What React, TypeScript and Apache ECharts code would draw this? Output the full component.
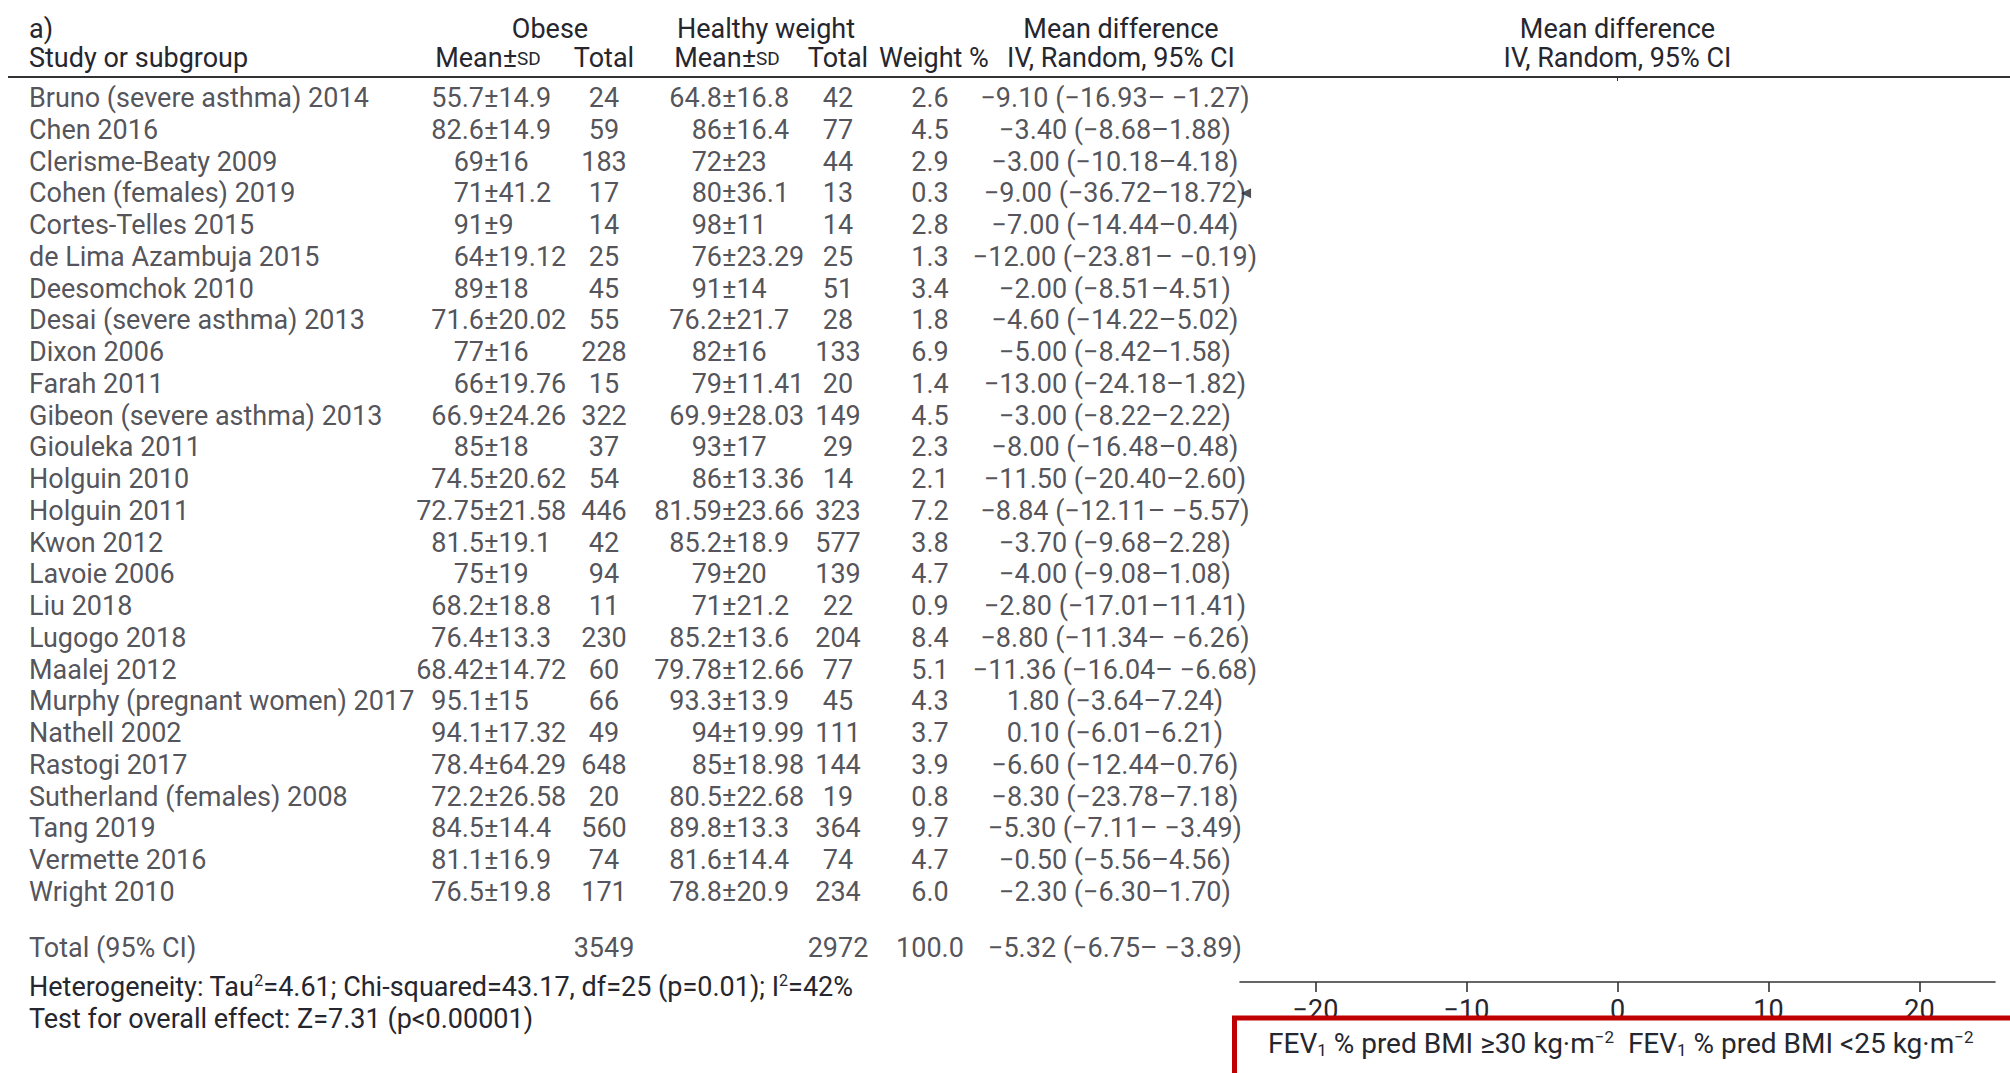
import React, { useEffect, useRef } from "react";
import * as echarts from "echarts";

// ---- Study rows ----
const studies = [
  "Bruno (severe asthma) 2014",
  "Chen 2016",
  "Clerisme-Beaty 2009",
  "Cohen (females) 2019",
  "Cortes-Telles 2015",
  "de Lima Azambuja 2015",
  "Deesomchok 2010",
  "Desai (severe asthma) 2013",
  "Dixon 2006",
  "Farah 2011",
  "Gibeon (severe asthma) 2013",
  "Giouleka 2011",
  "Holguin 2010",
  "Holguin 2011",
  "Kwon 2012",
  "Lavoie 2006",
  "Liu 2018",
  "Lugogo 2018",
  "Maalej 2012",
  "Murphy (pregnant women) 2017",
  "Nathell 2002",
  "Rastogi 2017",
  "Sutherland (females) 2008",
  "Tang 2019",
  "Vermette 2016",
  "Wright 2010",
];
const obeseMean = [55.7, 82.6, 69, 71, 91, 64, 89, 71.6, 77, 66, 66.9, 85, 74.5, 72.75, 81.5, 75, 68.2, 76.4, 68.42, 95.1, 94.1, 78.4, 72.2, 84.5, 81.1, 76.5];
const obeseSd = [14.9, 14.9, 16, 41.2, 9, 19.12, 18, 20.02, 16, 19.76, 24.26, 18, 20.62, 21.58, 19.1, 19, 18.8, 13.3, 14.72, 15, 17.32, 64.29, 26.58, 14.4, 16.9, 19.8];
const obeseTotal = [24, 59, 183, 17, 14, 25, 45, 55, 228, 15, 322, 37, 54, 446, 42, 94, 11, 230, 60, 66, 49, 648, 20, 560, 74, 171];
const healthyMean = [64.8, 86, 72, 80, 98, 76, 91, 76.2, 82, 79, 69.9, 93, 86, 81.59, 85.2, 79, 71, 85.2, 79.78, 93.3, 94, 85, 80.5, 89.8, 81.6, 78.8];
const healthySd = [16.8, 16.4, 23, 36.1, 11, 23.29, 14, 21.7, 16, 11.41, 28.03, 17, 13.36, 23.66, 18.9, 20, 21.2, 13.6, 12.66, 13.9, 19.99, 18.98, 22.68, 13.3, 14.4, 20.9];
const healthyTotal = [42, 77, 44, 13, 14, 25, 51, 28, 133, 20, 149, 29, 14, 323, 577, 139, 22, 204, 77, 45, 111, 144, 19, 364, 74, 234];
const weights = [2.6, 4.5, 2.9, 0.3, 2.8, 1.3, 3.4, 1.8, 6.9, 1.4, 4.5, 2.3, 2.1, 7.2, 3.8, 4.7, 0.9, 8.4, 5.1, 4.3, 3.7, 3.9, 0.8, 9.7, 4.7, 6.0];
const meanDiff = [-9.1, -3.4, -3, -9, -7, -12, -2, -4.6, -5, -13, -3, -8, -11.5, -8.84, -3.7, -4, -2.8, -8.8, -11.36, 1.8, 0.1, -6.6, -8.3, -5.3, -0.5, -2.3];
const ciLower = [-16.93, -8.68, -10.18, -36.72, -14.44, -23.81, -8.51, -14.22, -8.42, -24.18, -8.22, -16.48, -20.4, -12.11, -9.68, -9.08, -17.01, -11.34, -16.04, -3.64, -6.01, -12.44, -23.78, -7.11, -5.56, -6.3];
const ciUpper = [-1.27, 1.88, 4.18, 18.72, 0.44, -0.19, 4.51, 5.02, 1.58, 1.82, 2.22, 0.48, 2.6, -5.57, 2.28, 1.08, 11.41, -6.26, -6.68, 7.24, 6.21, 0.76, 7.18, -3.49, 4.56, 1.7];

// ---- Pooled result ----
const totalObese = 3549;
const totalHealthy = 2972;
const totalWeight = 100.0;
const totalMd = -5.32;
const totalLower = -6.75;
const totalUpper = -3.89;

// ---- Mean-difference axis ----
const mdMin = -25;
const mdMax = 25;
const mdTicks = [-20, -10, 0, 10, 20];

// ---- Layout and style ----
const W = 2010;
const H = 1073;
const FONT = "Roboto, 'DejaVu Sans', sans-serif";
const FS = 27;
const INK = "#26262e";
const RULE = "#333333";
const PITCH = 31.76;
const ROW0_Y = 98;
const GRID_TOP = 78;
const AXIS_Y = 982;
const PLOT_LEFT = 1240;
const PLOT_RIGHT = 1995;
const TOTAL_ROW = 26.75;

const NAME_X = 29;
const OB_PM_X = 484;
const OB_N_X = 604;
const HW_PM_X = 722;
const HW_N_X = 838;
const WT_X = 930;
const CI_X = 1115;

const MINUS = "\u2212";
const fmt = (v: number, d: number) => (v < 0 ? MINUS : "") + Math.abs(v).toFixed(d);
const ciText = (md: number, lo: number, hi: number) =>
  `${fmt(md, 2)} (${fmt(lo, 2)}${hi < 0 ? "\u2013 " : "\u2013"}${fmt(hi, 2)})`;

const rowY = (r: number) => ROW0_Y + r * PITCH;

export default function App() {
  const ref = useRef<HTMLDivElement>(null);

  useEffect(() => {
    if (!ref.current) return;
    const chart = echarts.init(ref.current, null, { renderer: "svg" });

    const ctx = document.createElement("canvas").getContext("2d")!;
    ctx.font = `${FS}px Roboto`;
    const textW = (s: string) => ctx.measureText(s).width;

    const yMin = -(ROW0_Y - GRID_TOP) / PITCH;
    const yMax = (AXIS_Y - ROW0_Y) / PITCH;
    const plotW = PLOT_RIGHT - PLOT_LEFT;
    const zeroX = PLOT_LEFT + ((0 - mdMin) / (mdMax - mdMin)) * plotW;

    const labelBase = {
      show: true,
      position: "inside",
      verticalAlign: "middle",
      formatter: "{b}",
      fontSize: FS,
      fontFamily: FONT,
      color: INK,
    };
    const column = (items: { x: number; y: number; text: string }[], align: string) => ({
      type: "scatter",
      xAxisIndex: 1,
      yAxisIndex: 1,
      symbol: "circle",
      symbolSize: 1,
      silent: true,
      clip: false,
      itemStyle: { color: "rgba(0,0,0,0)" },
      emphasis: { disabled: true },
      label: { ...labelBase, align },
      data: items.map((it) => ({ name: it.text, value: [it.x, it.y] })),
    });

    // mean±SD aligned on the ± sign
    const pmItems = (means: number[], sds: number[], px: number) =>
      means.map((m, i) => {
        const left = String(m);
        return { x: px - textW(left), y: i, text: `${left}±${sds[i]}` };
      });

    const nameCol = column(
      [...studies.map((s, i) => ({ x: NAME_X, y: i, text: s })), { x: NAME_X, y: TOTAL_ROW, text: "Total (95% CI)" }],
      "left"
    );
    const obPm = column(pmItems(obeseMean, obeseSd, OB_PM_X), "left");
    const obN = column(
      [...obeseTotal.map((n, i) => ({ x: OB_N_X, y: i, text: String(n) })), { x: OB_N_X, y: TOTAL_ROW, text: String(totalObese) }],
      "center"
    );
    const hwPm = column(pmItems(healthyMean, healthySd, HW_PM_X), "left");
    const hwN = column(
      [...healthyTotal.map((n, i) => ({ x: HW_N_X, y: i, text: String(n) })), { x: HW_N_X, y: TOTAL_ROW, text: String(totalHealthy) }],
      "center"
    );
    const wt = column(
      [...weights.map((w, i) => ({ x: WT_X, y: i, text: w.toFixed(1) })), { x: WT_X, y: TOTAL_ROW, text: totalWeight.toFixed(1) }],
      "center"
    );
    const ci = column(
      [
        ...meanDiff.map((m, i) => ({ x: CI_X, y: i, text: ciText(m, ciLower[i], ciUpper[i]) })),
        { x: CI_X, y: TOTAL_ROW, text: ciText(totalMd, totalLower, totalUpper) },
      ],
      "center"
    );

    // arrows where a confidence interval runs past the axis
    const arrowData: number[][] = [];
    ciLower.forEach((lo, i) => {
      if (lo < mdMin) arrowData.push([mdMin + 0.4, i]);
    });

    const txt = (x: number, y: number, text: string, align = "left", extra: any = {}) => ({
      type: "text",
      x,
      y,
      silent: true,
      style: {
        text,
        fontSize: FS,
        fontFamily: FONT,
        fill: INK,
        align,
        verticalAlign: "middle",
        ...extra,
      },
    });
    const richStyles = {
      sup: { fontSize: 16, lineHeight: 16, verticalAlign: "top", fontFamily: FONT, fill: INK },
      sub: { fontSize: 16, lineHeight: 16, verticalAlign: "bottom", fontFamily: FONT, fill: INK },
      sc: { fontSize: 19, lineHeight: 30, verticalAlign: "middle", fontFamily: FONT, fill: INK },
    };
    const boxRich = {
      sup: { fontSize: 17, lineHeight: 16, verticalAlign: "top", fontFamily: FONT, fill: INK },
      sub: { fontSize: 17, lineHeight: 16, verticalAlign: "bottom", fontFamily: FONT, fill: INK },
    };
    const H1 = 29;
    const H2 = 58;

    const graphics: any[] = [
      { type: "line", silent: true, shape: { x1: 8, y1: 77, x2: W, y2: 77 }, style: { stroke: RULE, lineWidth: 2 } },
      { type: "line", silent: true, shape: { x1: zeroX, y1: 78, x2: zeroX, y2: 81 }, style: { stroke: RULE, lineWidth: 1 } },
      txt(NAME_X, H1, "a)"),
      txt(550, H1, "Obese", "center"),
      txt(766, H1, "Healthy weight", "center"),
      txt(1121, H1, "Mean difference", "center"),
      txt(zeroX, H1, "Mean difference", "center"),
      txt(NAME_X, H2, "Study or subgroup"),
      txt(488, H2, "Mean±{sc|SD}", "center", { rich: richStyles, lineHeight: 30 }),
      txt(OB_N_X, H2, "Total", "center"),
      txt(727, H2, "Mean±{sc|SD}", "center", { rich: richStyles, lineHeight: 30 }),
      txt(HW_N_X, H2, "Total", "center"),
      txt(934, H2, "Weight %", "center"),
      txt(1121, H2, "IV, Random, 95% CI", "center"),
      txt(zeroX, H2, "IV, Random, 95% CI", "center"),
      txt(NAME_X, rowY(28), "Heterogeneity: Tau{sup|2}=4.61; Chi-squared=43.17, df=25 (p=0.01); I{sup|2}=42%", "left", {
        rich: richStyles,
        lineHeight: 30,
      }),
      txt(NAME_X, rowY(29), "Test for overall effect: Z=7.31 (p<0.00001)"),
      {
        type: "rect",
        silent: true,
        z: 100,
        shape: { x: 1234.5, y: 1018, width: 820, height: 120 },
        style: { fill: "#ffffff", stroke: "#c00000", lineWidth: 5 },
      },
      {
        ...txt(
          1268,
          1043,
          "FEV{sub|1} % pred BMI \u226530 kg\u00b7m{sup|\u22122}  FEV{sub|1} % pred BMI <25 kg\u00b7m{sup|\u22122}",
          "left",
          { rich: boxRich, lineHeight: 30, fontSize: 28 }
        ),
        z: 101,
      },
    ];

    chart.setOption({
      animation: false,
      backgroundColor: "#ffffff",
      textStyle: { fontFamily: FONT },
      grid: [
        { left: PLOT_LEFT, top: GRID_TOP, width: plotW, height: AXIS_Y - GRID_TOP },
        { left: 0, top: GRID_TOP, width: W, height: AXIS_Y - GRID_TOP },
      ],
      xAxis: [
        {
          type: "value",
          gridIndex: 0,
          min: mdMin,
          max: mdMax,
          position: "bottom",
          splitLine: { show: false },
          axisLine: { show: true, onZero: false, lineStyle: { color: RULE, width: 1.6 } },
          axisTick: { show: true, customValues: mdTicks, length: 10, lineStyle: { color: RULE, width: 1.6 } },
          axisLabel: {
            customValues: mdTicks,
            formatter: (v: number) => fmt(v, 0),
            fontSize: FS,
            fontFamily: FONT,
            color: INK,
            margin: 14,
          },
        },
        { type: "value", gridIndex: 1, min: 0, max: W, show: false },
      ],
      yAxis: [
        { type: "value", gridIndex: 0, inverse: true, min: yMin, max: yMax, show: false },
        { type: "value", gridIndex: 1, inverse: true, min: yMin, max: yMax, show: false },
      ],
      series: [
        nameCol,
        obPm,
        obN,
        hwPm,
        hwN,
        wt,
        ci,
        {
          type: "scatter",
          xAxisIndex: 0,
          yAxisIndex: 0,
          symbol: "triangle",
          symbolRotate: 90,
          symbolSize: [10, 10],
          silent: true,
          itemStyle: { color: INK },
          data: arrowData,
        },
      ],
      graphic: graphics,
    });

    return () => chart.dispose();
  }, []);

  return (
    <div
      ref={ref}
      style={{ position: "fixed", left: 0, top: 0, width: W, height: H, background: "#ffffff" }}
    />
  );
}
